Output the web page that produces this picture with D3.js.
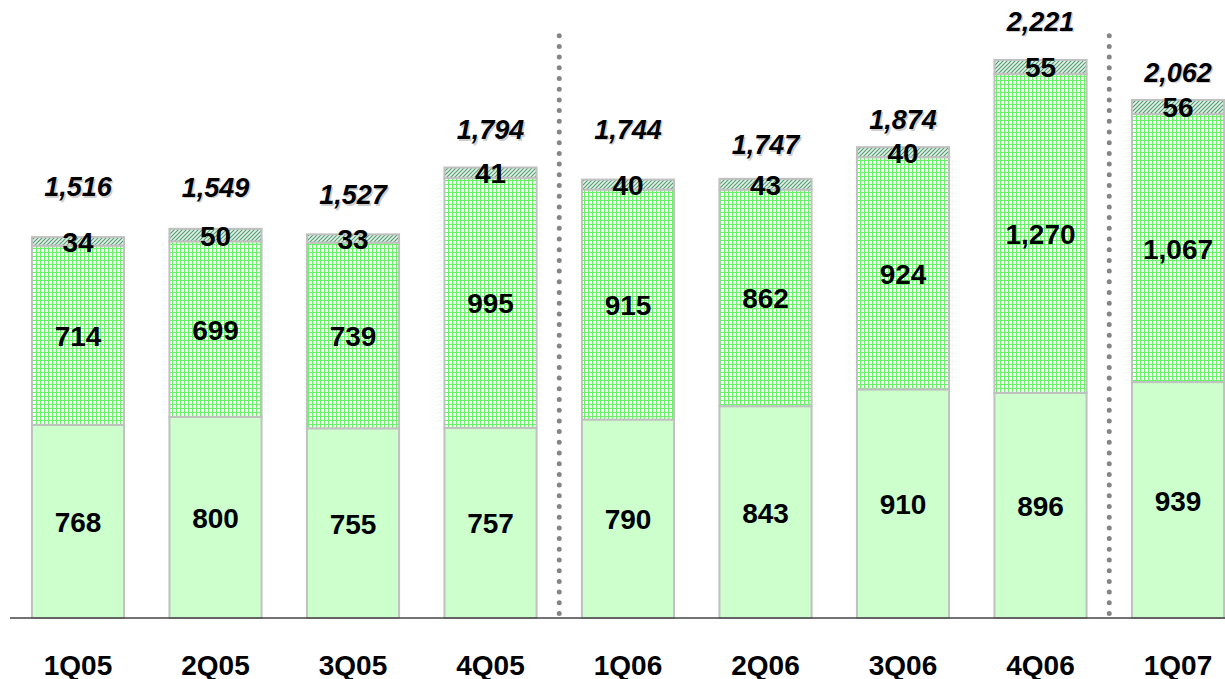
<!DOCTYPE html>
<html>
<head>
    <title>Quarterly stacked bars</title>
    <script src="https://d3js.org/d3.v7.min.js"></script>
    <style>
        body { margin: 0; background: #fff; }
        svg { display: block; width: 1225px; height: 679px; background: #fff; }
        text { font-family: "Liberation Sans", Arial, sans-serif; font-weight: bold; fill: #000; }
    </style>
</head>
<body>
    <svg id="chart" width="1225" height="679"></svg>

    <script>
        // data
        const quarters = ["1Q05", "2Q05", "3Q05", "4Q05", "1Q06", "2Q06", "3Q06", "4Q06", "1Q07"];
        const baseVals = [768, 800, 755, 757, 790, 843, 910, 896, 939];
        const midVals = [714, 699, 739, 995, 915, 862, 924, 1270, 1067];
        const topVals = [34, 50, 33, 41, 40, 43, 40, 55, 56];
        const totals = [1516, 1549, 1527, 1794, 1744, 1747, 1874, 2221, 2062];
        const dividersAfter = ["4Q05", "4Q06"];

        // how far the total label sits above each bar (layout only)
        const totalLift = [50, 41, 39, 37, 50, 34, 27, 38, 27];

        const svg = d3.select("#chart");
        const baseY = 618;

        const x = d3.scaleBand().domain(quarters)
            .range([9.25, 1246.75]).paddingInner(0.33).paddingOuter(0.165);
        const y = d3.scaleLinear().domain([0, 2400]).range([baseY, 15]);

        const defs = svg.append("defs");
        const grid = defs.append("pattern").attr("id", "grid")
            .attr("width", 4).attr("height", 4).attr("patternUnits", "userSpaceOnUse");
        grid.append("rect").attr("width", 4).attr("height", 4).attr("fill", "#fff");
        grid.append("path").attr("d", "M0,0.5H4M0.5,0V4")
            .attr("stroke", "#66f466").attr("stroke-width", 1);

        const hatch = defs.append("pattern").attr("id", "hatch")
            .attr("width", 4).attr("height", 4).attr("patternUnits", "userSpaceOnUse");
        hatch.append("rect").attr("width", 4).attr("height", 4).attr("fill", "#e4f2e4");
        hatch.append("path").attr("d", "M-1,1L1,-1M0,4L4,0M3,5L5,3")
            .attr("stroke", "#4f9a78").attr("stroke-width", 1.1);

        const rows = quarters.map((q, i) => ({
            q, base: baseVals[i], mid: midVals[i], top: topVals[i], total: totals[i], lift: totalLift[i]
        }));

        const stack = d3.stack().keys(["base", "mid", "top"])(rows);
        const fills = { base: "#ccffcc", mid: "url(#grid)", top: "url(#hatch)" };

        // dotted separators
        dividersAfter.forEach(q => {
            const i = quarters.indexOf(q);
            const sx = (x(q) + x.bandwidth() + x(quarters[i + 1])) / 2;
            svg.append("line")
                .attr("x1", sx).attr("x2", sx).attr("y1", 35.7).attr("y2", baseY - 2)
                .attr("stroke", "#858585").attr("stroke-width", 5)
                .attr("stroke-linecap", "round").attr("stroke-dasharray", "0 10.7");
        });

        const layers = svg.selectAll("g.layer").data(stack).enter()
            .append("g").attr("class", "layer");

        layers.selectAll("rect").data(d => d.map(s => ({ s, key: d.key }))).enter()
            .append("rect")
            .attr("x", d => x(d.s.data.q))
            .attr("width", x.bandwidth())
            .attr("y", d => y(d.s[1]))
            .attr("height", d => y(d.s[0]) - y(d.s[1]))
            .attr("fill", d => fills[d.key])
            .attr("stroke", "#c0c0c0").attr("stroke-width", 2);

        // segment labels
        layers.selectAll("text").data(d => d.map(s => s)).enter()
            .append("text")
            .attr("x", s => x(s.data.q) + x.bandwidth() / 2)
            .attr("y", s => (y(s[0]) + y(s[1])) / 2 + 1)
            .attr("text-anchor", "middle")
            .attr("dominant-baseline", "central")
            .attr("font-size", 28)
            .text(s => d3.format(",")(s[1] - s[0]));

        // totals, with a faint grey shadow
        [["#cfcfcf", 1.5], ["#000", 0]].forEach(([col, off]) => {
            svg.selectAll(null).data(rows).enter()
                .append("text")
                .attr("x", d => x(d.q) + x.bandwidth() / 2 + off)
                .attr("y", d => y(d.total) - d.lift + off)
                .attr("text-anchor", "middle")
                .attr("dominant-baseline", "central")
                .attr("font-size", 27)
                .attr("font-style", "italic")
                .style("fill", col)
                .text(d => d3.format(",")(d.total));
        });

        // baseline
        svg.append("line")
            .attr("x1", 10).attr("x2", 1225).attr("y1", baseY).attr("y2", baseY)
            .attr("stroke", "#444").attr("stroke-width", 1.5);

        // category labels
        svg.selectAll("text.cat").data(quarters).enter()
            .append("text").attr("class", "cat")
            .attr("x", q => x(q) + x.bandwidth() / 2)
            .attr("y", 665)
            .attr("text-anchor", "middle")
            .attr("dominant-baseline", "central")
            .attr("font-size", 28)
            .text(q => q);
    </script>
</body>
</html>
